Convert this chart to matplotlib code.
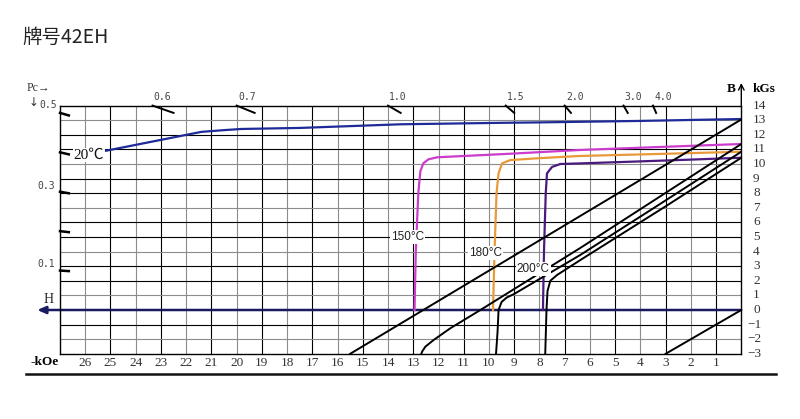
import matplotlib.pyplot as plt
from matplotlib.lines import Line2D

# demagnetization curves, H in kOe (magnitude), B / J in kGs
j20_h = [25.2, 23.3, 21.4, 20.5, 19.8, 17.5, 13.5, 9.5, 8.0, 4.0, 1.6, 0.0]
j20_b = [10.9, 11.55, 12.2, 12.32, 12.4, 12.47, 12.72, 12.82, 12.85, 12.95, 13.03, 13.08]
b20_h = [0.0, 15.5]
b20_b = [13.05, -3.0]

j150_h = [12.95, 12.9, 12.8, 12.72, 12.6, 12.4, 12.05, 9.2, 6.4, 3.0, 0.0]
j150_b = [0.0, 4.0, 8.0, 9.5, 10.05, 10.32, 10.46, 10.7, 10.96, 11.18, 11.37]
b150_h = [0.0, 6.38, 10.34, 11.53, 12.19, 12.52, 12.65, 12.68]
b150_b = [11.37, 4.25, 0.0, -1.25, -2.05, -2.51, -2.85, -3.0]

j180_h = [9.84, 9.78, 9.7, 9.62, 9.48, 9.15, 8.0, 6.4, 3.0, 0.0]
j180_b = [0.0, 4.0, 8.0, 9.36, 10.05, 10.27, 10.4, 10.55, 10.7, 10.84]
b180_h = [0.0, 3.5, 6.38, 9.0, 9.3, 9.5, 9.62, 9.66, 9.72]
b180_b = [10.84, 6.95, 3.77, 1.1, 0.85, 0.55, 0.0, -1.5, -3.0]

j200_h = [7.86, 7.82, 7.75, 7.7, 7.5, 7.17, 6.4, 4.0, 2.0, 0.0]
j200_b = [0.0, 4.0, 8.0, 9.36, 9.8, 10.0, 10.04, 10.18, 10.3, 10.43]
b200_h = [0.0, 3.0, 6.38, 7.3, 7.57, 7.68, 7.72, 7.77]
b200_b = [10.43, 7.1, 3.42, 2.4, 2.0, 1.3, 0.0, -3.0]

zero_h = [0.0, 3.0]
zero_b = [0.0, -3.0]

pc_top = [0.6, 0.7, 1.0, 1.5, 2.0, 3.0, 4.0]
pc_top_labels = ["0.6", "0.7", "1.0", "1.5", "2.0", "3.0", "4.0"]
pc_left = [0.1, 0.2, 0.3, 0.4, 0.5]

h_ticks = list(range(1, 27))
b_ticks = list(range(-3, 15))

W, H = 800, 419


def fx(px):
    return px / W


def fy(py):
    return 1 - py / H


fig = plt.figure(figsize=(8, 4.19), dpi=100)
ax = fig.add_axes([fx(60), fy(353.8), (741.3 - 60) / W, (353.8 - 105.6) / H])
ax.set_xlim(27, 0)
ax.set_ylim(-3, 14)

# grid
for h in range(1, 27):
    c = "black" if h % 2 == 1 else "#8c8c8c"
    ax.axvline(h, color=c, lw=0.8, zorder=0)
for b in range(-2, 14):
    if b == 0:
        continue
    c = "#8c8c8c" if b % 3 == 1 else "black"
    ax.axhline(b, color=c, lw=0.8, zorder=0)

for s in ax.spines.values():
    s.set_linewidth(1.0)
    s.set_color("black")

# H axis with arrow
ax.annotate("", xy=(27.9, 0), xytext=(0, 0), annotation_clip=False,
            arrowprops=dict(arrowstyle="-|>,head_length=0.5,head_width=0.22",
                            color="#1a1a60", lw=1.8, shrinkA=0, shrinkB=0), zorder=2)
# B axis arrow
ax.annotate("", xy=(0, 15.55), xytext=(0, 14), annotation_clip=False,
            arrowprops=dict(arrowstyle="->,head_length=0.4,head_width=0.2",
                            color="black", lw=1.0, shrinkA=0, shrinkB=0))

# curves
ax.plot(j20_h, j20_b, color="#1e2a98", lw=1.6, zorder=3)
ax.plot(j150_h, j150_b, color="#cc3ccc", lw=1.6, zorder=3)
ax.plot(j180_h, j180_b, color="#e89a3a", lw=1.6, zorder=3)
ax.plot(j200_h, j200_b, color="#4a1a7e", lw=1.6, zorder=3)
for hh, bb in [(b20_h, b20_b), (b150_h, b150_b), (b180_h, b180_b),
               (b200_h, b200_b), (zero_h, zero_b)]:
    ax.plot(hh, bb, color="black", lw=1.4, zorder=3)

# permeance coefficient ticks
for pc, lab in zip(pc_top, pc_top_labels):
    ax.plot([14 / pc, 13.5 / pc], [14, 13.5], color="black", lw=1.4,
            clip_on=False, zorder=4)
    ax.text(14 / pc - 0.4, 14.59, lab, ha="center", va="center", fontsize=7,
            family="DejaVu Sans Mono", color="#444444", clip_on=False)
for pc in pc_left:
    ax.plot([27, 26.65], [27 * pc, 26.65 * pc], color="black", lw=1.8,
            clip_on=False, zorder=4)

# temperature labels
box = dict(facecolor="white", edgecolor="none", pad=0.5)
ax.text(25.85, 10.62, "20℃", ha="center", va="center", fontsize=11,
        family=["Liberation Serif", "Noto Sans CJK SC"], color="#111111",
        bbox=box, zorder=5)
for h, b, t in [(13.23, 5.0, "150°C"), (10.14, 3.9, "180°C"), (8.24, 2.81, "200°C")]:
    ax.text(h, b, t, ha="center", va="center", fontsize=8.5,
            family="Liberation Sans", color="#222222", bbox=box, zorder=5)

# bottom ticks
ax.set_xticks(h_ticks)
ax.set_xticklabels([str(v) for v in h_ticks], family="Liberation Serif",
                   fontsize=9.5, color="#333333")
ax.tick_params(axis="x", length=0, pad=2)
ax.set_yticks([])

# right ticks
tr = ax.get_yaxis_transform()
for b in b_ticks:
    x0 = 1.0172 if b >= 0 else 1.0084
    ax.text(x0, b, str(b).replace("-", "−"), transform=tr, ha="left", va="center",
            fontsize=9.5, family="Liberation Serif", color="#333333")

# axis captions
fig.text(fx(731), fy(89), "B", ha="center", va="center", fontsize=9.5,
         family="Liberation Serif", weight="bold")
fig.text(fx(764), fy(89), "kGs", ha="center", va="center", fontsize=9.5,
         family="Liberation Serif", weight="bold")
fig.text(fx(45), fy(362), "-kOe", ha="center", va="center", fontsize=9.5,
         family="Liberation Serif", weight="bold")
fig.text(fx(49), fy(299), "H", ha="center", va="center", fontsize=10,
         family="Liberation Serif", color="#222222")
fig.text(fx(38), fy(88), "Pc→", ha="center", va="center", fontsize=8.5,
         family=["Liberation Serif", "DejaVu Sans"], color="#333333")
fig.text(fx(34), fy(103), "↓", ha="center", va="center", fontsize=8.5,
         family="DejaVu Sans", color="#333333")
fig.text(fx(57), fy(105), "0.5", ha="right", va="center", fontsize=7,
         family="DejaVu Sans Mono", color="#444444")
fig.text(fx(55), fy(186), "0.3", ha="right", va="center", fontsize=7,
         family="DejaVu Sans Mono", color="#444444")
fig.text(fx(55), fy(264), "0.1", ha="right", va="center", fontsize=7,
         family="DejaVu Sans Mono", color="#444444")

fig.text(fx(22), fy(37), "牌号42EH", ha="left", va="center", fontsize=14,
         family=["Noto Sans CJK SC", "DejaVu Sans"], color="#222222")

fig.add_artist(Line2D([fx(26), fx(776)], [fy(374), fy(374)], lw=1.8, color="#111111"))

fig.savefig("out.png", dpi=100)
